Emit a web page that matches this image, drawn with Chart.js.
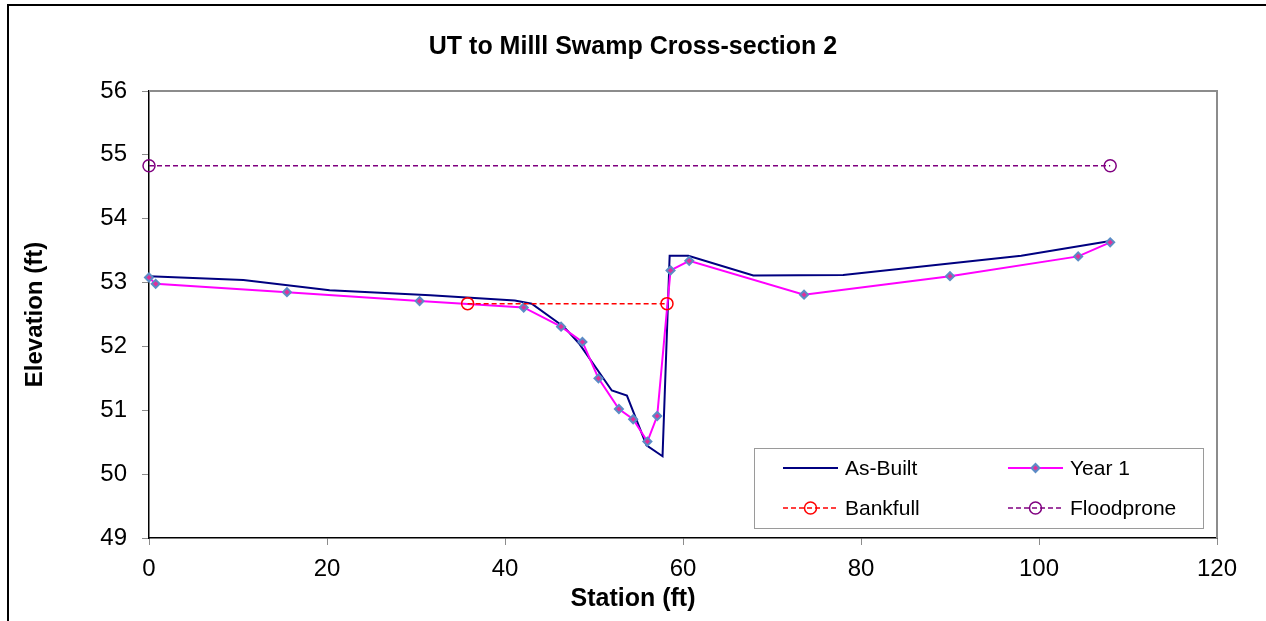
<!DOCTYPE html>
<html>
<head>
<meta charset="utf-8">
<title>UT to Milll Swamp Cross-section 2</title>
<script src="https://cdn.jsdelivr.net/npm/chart.js@4.4.0/dist/chart.umd.min.js"></script>
<style>
  html, body { margin: 0; padding: 0; background: #fff; overflow: hidden; }
  #wrap { position: relative; width: 1266px; height: 621px; }
  #frame { position: absolute; left: 7px; top: 4px; width: 1300px; height: 700px;
           border-left: 2px solid #000; border-top: 2px solid #000; }
  #chart { position: absolute; left: 0; top: 0; }
</style>
</head>
<body>
<div id="wrap">
  <div id="frame"></div>
  <canvas id="chart" width="1266" height="621"></canvas>
</div>
<script>
// ---------------- Data ----------------
const asBuiltStation = [0, 10.6, 20.3, 31.6, 41.1, 43.0, 46.6, 48.3, 52.0, 53.7, 55.9, 57.7, 58.5, 60.6, 67.9, 78.0, 98.0, 108.0];
const asBuiltElev    = [53.10, 53.04, 52.88, 52.80, 52.72, 52.67, 52.31, 52.05, 51.31, 51.23, 50.45, 50.28, 53.42, 53.42, 53.11, 53.12, 53.42, 53.65];

const year1Station = [0, 0.75, 15.5, 30.4, 42.1, 46.3, 48.7, 50.5, 52.8, 54.4, 56.0, 57.1, 58.6, 60.7, 73.6, 90.0, 104.4, 108.0];
const year1Elev    = [53.08, 52.98, 52.85, 52.71, 52.61, 52.31, 52.07, 51.50, 51.02, 50.86, 50.51, 50.91, 53.19, 53.34, 52.81, 53.10, 53.41, 53.63];

const bankfullStation = [35.8, 58.2];
const bankfullElev    = [52.67, 52.67];

const floodproneStation = [0, 108];
const floodproneElev    = [54.83, 54.83];

const xMin = 0, xMax = 120, xStep = 20;
const yMin = 49, yMax = 56, yStep = 1;

const FONT = "'Liberation Sans', Arial, sans-serif";

function toPoints(xs, ys) {
    return xs.map((x, i) => ({ x: x, y: ys[i] }));
}

// ---------------- Plugins ----------------
// gray top/right border of the plot area
const plotFrame = {
    id: "plotFrame",
    beforeDatasetsDraw(chart) {
        const { ctx, chartArea: a } = chart;
        ctx.save();
        ctx.strokeStyle = "#8c8c8c";
        ctx.lineWidth = 2;
        ctx.beginPath();
        ctx.moveTo(a.left, a.top);
        ctx.lineTo(a.right, a.top);
        ctx.lineTo(a.right, a.bottom);
        ctx.stroke();
        ctx.restore();
    }
};

// boxed legend inside the plot, two columns
const boxLegend = {
    id: "boxLegend",
    afterDraw(chart) {
        const { ctx, chartArea: a } = chart;
        const boxW = 449, boxH = 80;
        const bx = a.right - 14 - boxW;
        const by = a.bottom - 10 - boxH;
        ctx.save();
        ctx.fillStyle = "#fff";
        ctx.fillRect(bx, by, boxW, boxH);
        ctx.strokeStyle = "#9a9a9a";
        ctx.lineWidth = 1;
        ctx.strokeRect(bx + 0.5, by + 0.5, boxW, boxH);

        chart.data.datasets.forEach((ds, i) => {
            const col = i % 2, row = Math.floor(i / 2);
            const x0 = bx + 29 + col * 225;
            const y0 = by + 20 + row * 40;
            const x1 = x0 + 55;
            ctx.save();
            ctx.strokeStyle = ds.borderColor;
            ctx.lineWidth = ds.borderWidth;
            ctx.setLineDash(ds.borderDash || []);
            ctx.beginPath();
            ctx.moveTo(x0, y0);
            ctx.lineTo(x1, y0);
            ctx.stroke();
            ctx.restore();
            if (ds.pointRadius > 0) {
                ctx.save();
                ctx.fillStyle = ds.pointBackgroundColor;
                ctx.strokeStyle = ds.pointBorderColor;
                ctx.lineWidth = ds.pointBorderWidth;
                Chart.helpers.drawPoint(ctx, {
                    pointStyle: ds.pointStyle,
                    radius: ds.pointRadius,
                    rotation: 0,
                    borderWidth: ds.pointBorderWidth
                }, (x0 + x1) / 2, y0);
                ctx.restore();
            }
            ctx.fillStyle = "#000";
            ctx.font = "21px " + FONT;
            ctx.textBaseline = "middle";
            ctx.fillText(ds.label, x1 + 7, y0 + 1);
        });
        ctx.restore();
    }
};

// ---------------- Chart ----------------
new Chart(document.getElementById("chart").getContext("2d"), {
    type: "scatter",
    data: {
        datasets: [
            {
                label: "As-Built",
                data: toPoints(asBuiltStation, asBuiltElev),
                showLine: true,
                borderColor: "#000080",
                borderWidth: 2,
                pointRadius: 0,
                order: 4
            },
            {
                label: "Year 1",
                data: toPoints(year1Station, year1Elev),
                showLine: true,
                borderColor: "#ff00ff",
                borderWidth: 2,
                pointStyle: "rectRot",
                pointRadius: 4,
                pointBorderWidth: 2,
                pointBackgroundColor: "#e0309a",
                pointBorderColor: "#5b8cc6",
                order: 3
            },
            {
                label: "Bankfull",
                data: toPoints(bankfullStation, bankfullElev),
                showLine: true,
                borderColor: "#ff0000",
                borderWidth: 1.5,
                borderDash: [5, 3],
                pointStyle: "circle",
                pointRadius: 6,
                pointBorderWidth: 1.5,
                pointBackgroundColor: "rgba(0,0,0,0)",
                pointBorderColor: "#ff0000",
                order: 2
            },
            {
                label: "Floodprone",
                data: toPoints(floodproneStation, floodproneElev),
                showLine: true,
                borderColor: "#800080",
                borderWidth: 1.5,
                borderDash: [5, 3],
                pointStyle: "circle",
                pointRadius: 6,
                pointBorderWidth: 1.5,
                pointBackgroundColor: "rgba(0,0,0,0)",
                pointBorderColor: "#800080",
                order: 1
            }
        ]
    },
    options: {
        responsive: false,
        animation: false,
        clip: false,
        layout: { padding: 0 },
        plugins: {
            legend: { display: false },
            tooltip: { enabled: false },
            title: {
                display: true,
                text: "UT to Milll Swamp Cross-section 2",
                color: "#000",
                font: { family: FONT, size: 25, weight: "bold" },
                padding: { top: 32, bottom: 29 }
            },
            // x axis caption, centred on the whole chart like the original
            subtitle: {
                display: true,
                position: "bottom",
                text: "Station (ft)",
                color: "#000",
                font: { family: FONT, size: 25, weight: "bold" },
                padding: { top: 0, bottom: 7 }
            }
        },
        scales: {
            x: {
                type: "linear",
                min: xMin,
                max: xMax,
                afterFit: s => { s.height = 46; },
                ticks: {
                    stepSize: xStep,
                    color: "#000",
                    font: { family: FONT, size: 24 },
                    padding: 10,
                    maxRotation: 0
                },
                grid: {
                    drawOnChartArea: false,
                    drawTicks: true,
                    tickLength: 7,
                    tickColor: "#8c8c8c"
                },
                border: { display: true, color: "#000", width: 1.5 }
            },
            y: {
                type: "linear",
                min: yMin,
                max: yMax,
                afterFit: s => { s.width = 149; },
                ticks: {
                    stepSize: yStep,
                    color: "#000",
                    font: { family: FONT, size: 24 },
                    padding: 15
                },
                grid: {
                    drawOnChartArea: false,
                    drawTicks: true,
                    tickLength: 7,
                    tickColor: "#8c8c8c"
                },
                border: { display: true, color: "#000", width: 1.5 },
                title: {
                    display: true,
                    text: "Elevation (ft)",
                    color: "#000",
                    font: { family: FONT, size: 24, weight: "bold" },
                    padding: { top: 21, bottom: 0 }
                }
            },
            // empty right-hand gutter so the plot ends where the original does
            gutter: {
                type: "linear",
                position: "right",
                min: yMin,
                max: yMax,
                afterFit: s => { s.width = 49; },
                ticks: { display: false },
                grid: { display: false, drawTicks: false },
                border: { display: false }
            }
        }
    },
    plugins: [plotFrame, boxLegend]
});
</script>
</body>
</html>
